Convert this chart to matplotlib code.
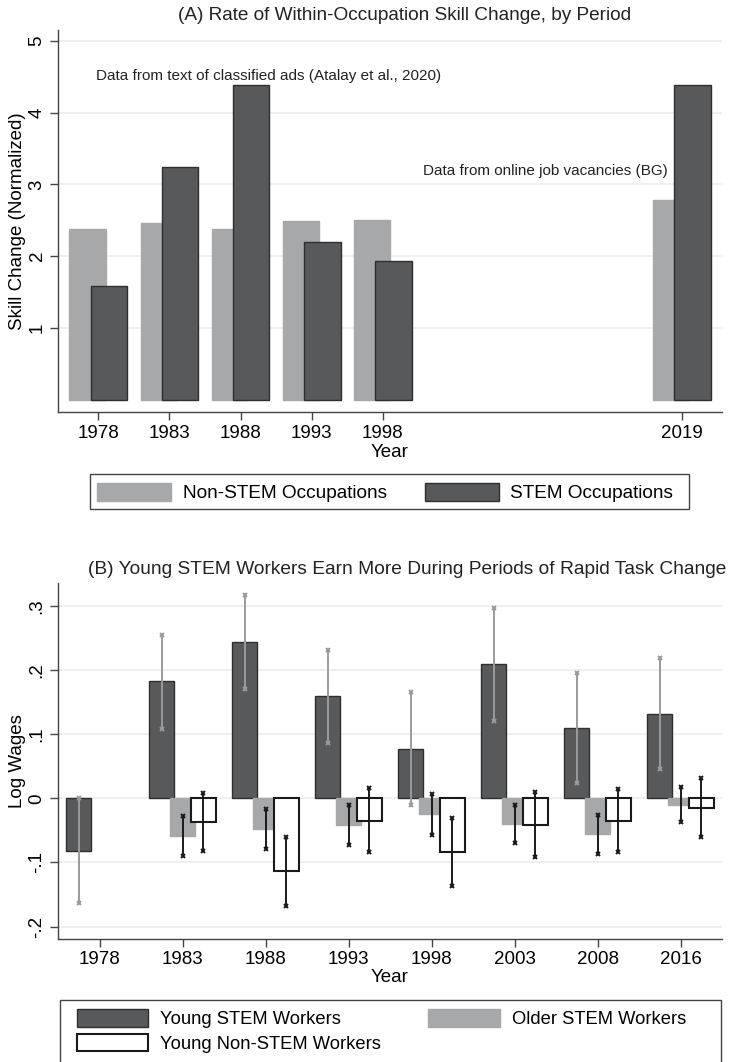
import numpy as np
import matplotlib
matplotlib.use("Agg")
import matplotlib.pyplot as plt
from matplotlib.patches import Patch, Rectangle

plt.rcParams['font.family'] = ['Liberation Sans', 'DejaVu Sans']

# Panel A data
years_a = [1978, 1983, 1988, 1993, 1998, 2019]
non_stem_a = [2.38, 2.47, 2.38, 2.49, 2.51, 2.79]
stem_a = [1.59, 3.24, 4.39, 2.20, 1.94, 4.39]

# Panel B data
years_b = ['1978', '1983', '1988', '1993', '1998', '2003', '2008', '2016']
young_stem = [-0.082, 0.182, 0.243, 0.159, 0.077, 0.209, 0.109, 0.132]
young_stem_lo = [-0.163, 0.108, 0.171, 0.086, -0.011, 0.121, 0.024, 0.046]
young_stem_hi = [0.0, 0.254, 0.317, 0.231, 0.165, 0.296, 0.195, 0.219]
older_stem = [np.nan, -0.059, -0.048, -0.042, -0.025, -0.040, -0.056, -0.010]
older_stem_lo = [np.nan, -0.090, -0.079, -0.072, -0.057, -0.070, -0.087, -0.037]
older_stem_hi = [np.nan, -0.027, -0.016, -0.011, 0.006, -0.010, -0.026, 0.018]
young_non = [np.nan, -0.037, -0.114, -0.035, -0.083, -0.042, -0.035, -0.015]
young_non_lo = [np.nan, -0.082, -0.167, -0.083, -0.136, -0.092, -0.084, -0.060]
young_non_hi = [np.nan, 0.009, -0.061, 0.016, -0.030, 0.010, 0.015, 0.031]

dark = '#58595b'
light = '#a7a8aa'
spine_c = '#444444'
grid_c = '#ececec'
fs = 13.5

W, H = 730, 1062
fig = plt.figure(figsize=(W / 100, H / 100), dpi=100)


def style_axes(ax):
    for s in ['top', 'right']:
        ax.spines[s].set_visible(False)
    for s in ['left', 'bottom']:
        ax.spines[s].set_color(spine_c)
        ax.spines[s].set_linewidth(1.0)
    ax.tick_params(axis='both', length=5.5, width=1.0, color=spine_c,
                   labelsize=fs, pad=3.5)
    ax.grid(axis='y', color=grid_c, lw=1.2, zorder=0)
    ax.set_axisbelow(True)
    for lab in ax.get_yticklabels():
        lab.set_rotation(90)
        lab.set_va('center')


def legend_box(x0, y0, x1, y1):
    # frame drawn in pixel coords of the figure (y from top)
    fig.add_artist(Rectangle((x0 / W, 1 - y1 / H), (x1 - x0) / W, (y1 - y0) / H,
                             transform=fig.transFigure, fill=False,
                             edgecolor=spine_c, lw=1.0))


# ---- Panel A ----
axA = fig.add_axes([58 / W, 1 - 412 / H, 664 / W, 382 / H])
xa = np.array(years_a, dtype=float)
axA.bar(xa - 0.75, non_stem_a, width=2.55, color=light, edgecolor=light, lw=1, zorder=2)
axA.bar(xa + 0.75, stem_a, width=2.55, color=dark, edgecolor='#2e2e2e', lw=1, zorder=3)
axA.set_xlim(1975.17, 2021.83)
axA.set_ylim(-0.171, 5.153)
axA.set_xticks(years_a)
axA.set_xticklabels([str(y) for y in years_a])
axA.set_yticks([1, 2, 3, 4, 5])
axA.set_yticklabels(['1', '2', '3', '4', '5'])
style_axes(axA)
axA.set_xlabel('Year', fontsize=fs, labelpad=2)
axA.set_ylabel('Skill Change (Normalized)', fontsize=fs)
axA.yaxis.set_label_coords(-0.048, 0.5)
axA.text(1977.84, 4.51, 'Data from text of classified ads (Atalay et al., 2020)',
         fontsize=11, ha='left', va='center', color='#222222')
axA.text(2000.82, 3.19, 'Data from online job vacancies (BG)',
         fontsize=11, ha='left', va='center', color='#222222')
fig.text(405 / W, 1 - 15 / H, '(A) Rate of Within-Occupation Skill Change, by Period',
         fontsize=13.7, ha='center', va='center', color='#222222')

fig.legend(handles=[Patch(facecolor=light, edgecolor=light),
                    Patch(facecolor=dark, edgecolor='#2e2e2e')],
           labels=['Non-STEM Occupations', 'STEM Occupations'],
           loc='upper left', bbox_to_anchor=(97 / W, 1 - 482.5 / H),
           ncol=2, fontsize=13.7, frameon=False, borderpad=0, borderaxespad=0,
           handlelength=3.9, handleheight=1.12,
           handletextpad=0.6, columnspacing=2.0)
legend_box(90, 474, 689, 509)

# ---- Panel B ----
axB = fig.add_axes([58 / W, 1 - 938.5 / H, 664 / W, 355.5 / H])
xb = np.arange(len(years_b))
bw = 0.30
off = 0.25
axB.bar(xb - off, young_stem, width=bw, color=dark, edgecolor='#2e2e2e', lw=1, zorder=2)
axB.bar(xb, older_stem, width=bw, color=light, edgecolor=light, lw=1, zorder=3)
axB.bar(xb + off, young_non, width=bw, color='white', edgecolor='#1a1a1a', lw=1.5, zorder=4)


def ci(ax, x, lo, hi, color):
    lo = np.array(lo, dtype=float)
    hi = np.array(hi, dtype=float)
    ok = ~np.isnan(lo)
    ax.vlines(x[ok], lo[ok], hi[ok], color=color, lw=1.4, zorder=5)
    ax.plot(x[ok], lo[ok], 'x', color=color, ms=3.5, mew=1.4, zorder=6)
    ax.plot(x[ok], hi[ok], 'x', color=color, ms=3.5, mew=1.4, zorder=6)


ci(axB, xb - off, young_stem_lo, young_stem_hi, '#9a9a9a')
ci(axB, xb, older_stem_lo, older_stem_hi, '#1a1a1a')
ci(axB, xb + off, young_non_lo, young_non_hi, '#1a1a1a')

axB.set_xlim(-0.5, 7.5)
axB.set_ylim(-0.2184, 0.3354)
axB.set_xticks(xb)
axB.set_xticklabels(years_b)
axB.set_yticks([-0.2, -0.1, 0, 0.1, 0.2, 0.3])
axB.set_yticklabels(['-.2', '-.1', '0', '.1', '.2', '.3'])
style_axes(axB)
axB.set_xlabel('Year', fontsize=fs, labelpad=1)
axB.set_ylabel('Log Wages', fontsize=fs)
axB.yaxis.set_label_coords(-0.048, 0.5)
fig.text(407 / W, 1 - 569 / H,
         '(B) Young STEM Workers Earn More During Periods of Rapid Task Change',
         fontsize=13.8, ha='center', va='center', color='#222222')

fig.legend(handles=[Patch(facecolor=dark, edgecolor='#2e2e2e'),
                    Patch(facecolor='white', edgecolor='#1a1a1a', lw=1.5),
                    Patch(facecolor=light, edgecolor=light)],
           labels=['Young STEM Workers', 'Young Non-STEM Workers',
                   'Older STEM Workers'],
           loc='upper left', bbox_to_anchor=(76.5 / W, 1 - 1009 / H),
           ncol=2, fontsize=13.2, frameon=False, borderpad=0, borderaxespad=0,
           handlelength=3.9, handleheight=1.1,
           handletextpad=0.65, columnspacing=2.6, labelspacing=0.3)
legend_box(60, 1000, 721, 1075)

fig.savefig('out.png', dpi=100)
